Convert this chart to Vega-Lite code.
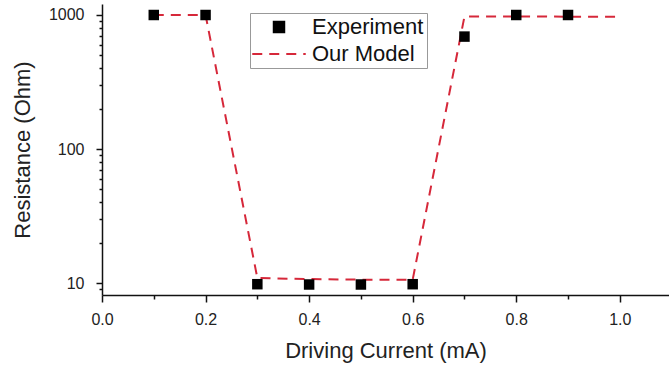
{
  "$schema": "https://vega.github.io/schema/vega-lite/v6.json",
  "width": 567,
  "height": 291,
  "autosize": "none",
  "padding": {"left": 102, "top": 4, "right": 0, "bottom": 78},
  "background": "white",
  "config": {
    "view": {"stroke": null},
    "font": "Liberation Sans",
    "axis": {
      "grid": false,
      "domainColor": "#111",
      "domainWidth": 1.5,
      "tickColor": "#111",
      "tickWidth": 1.5,
      "labelFont": "Liberation Sans",
      "labelFontSize": 16,
      "labelColor": "#222",
      "titleFont": "Liberation Sans",
      "titleFontSize": 22,
      "titleFontWeight": "normal",
      "titleColor": "#222"
    }
  },
  "data": {
    "values": [
      {"series": "Experiment", "x": 0.1, "y": 1000},
      {"series": "Experiment", "x": 0.2, "y": 1000},
      {"series": "Experiment", "x": 0.3, "y": 9.8},
      {"series": "Experiment", "x": 0.4, "y": 9.75},
      {"series": "Experiment", "x": 0.5, "y": 9.75},
      {"series": "Experiment", "x": 0.6, "y": 9.8},
      {"series": "Experiment", "x": 0.7, "y": 690},
      {"series": "Experiment", "x": 0.8, "y": 1000},
      {"series": "Experiment", "x": 0.9, "y": 1000},
      {"series": "Our Model", "x": 0.1, "y": 1000},
      {"series": "Our Model", "x": 0.2, "y": 1000},
      {"series": "Our Model", "x": 0.3, "y": 10.9},
      {"series": "Our Model", "x": 0.4, "y": 10.7},
      {"series": "Our Model", "x": 0.5, "y": 10.6},
      {"series": "Our Model", "x": 0.6, "y": 10.6},
      {"series": "Our Model", "x": 0.7, "y": 975},
      {"series": "Our Model", "x": 0.8, "y": 975},
      {"series": "Our Model", "x": 0.9, "y": 972},
      {"series": "Our Model", "x": 1.0, "y": 970}
    ]
  },
  "encoding": {
    "x": {
      "field": "x",
      "type": "quantitative",
      "scale": {"domain": [0, 1.095], "nice": false, "zero": false},
      "axis": {
        "title": "Driving Current (mA)",
        "values": [0, 0.1, 0.2, 0.3, 0.4, 0.5, 0.6, 0.7, 0.8, 0.9, 1.0],
        "labelExpr": "round(datum.value*10)%2==0 ? format(datum.value,'.1f') : ''",
        "tickSize": {"condition": {"test": "round(datum.value*10)%2==0", "value": 7}, "value": 4},
        "labelPadding": 9,
        "titlePadding": 13,
        "labelFlush": false
      }
    },
    "y": {
      "field": "y",
      "type": "quantitative",
      "scale": {"type": "log", "domain": [8.14, 1208], "nice": false},
      "axis": {
        "title": "Resistance (Ohm)",
        "values": [8, 9, 10, 20, 30, 40, 50, 60, 70, 80, 90, 100, 200, 300, 400, 500, 600, 700, 800, 900, 1000],
        "labelExpr": "indexof([10,100,1000], datum.value) >= 0 ? '' + datum.value : ''",
        "tickSize": {"condition": {"test": "indexof([10,100,1000], datum.value) >= 0", "value": 6}, "value": 3},
        "labelPadding": 12,
        "titlePadding": 14,
        "labelFlush": false
      }
    }
  },
  "layer": [
    {
      "transform": [{"filter": "datum.series == 'Our Model'"}],
      "mark": {"type": "line", "strokeWidth": 2},
      "encoding": {
        "color": {
          "field": "series",
          "type": "nominal",
          "scale": {"domain": ["Experiment", "Our Model"], "range": ["#000000", "#d6283a"]},
          "legend": {
            "title": null,
            "orient": "none",
            "legendX": 148,
            "legendY": 9,
            "strokeColor": "#999",
            "padding": 3,
            "labelFont": "Liberation Sans",
            "labelFontSize": 22,
            "labelColor": "#111",
            "symbolOffset": 15,
            "labelOffset": 22,
            "rowPadding": 5,
            "symbolSize": 110,
            "symbolStrokeWidth": 2
          }
        },
        "strokeDash": {
          "field": "series",
          "type": "nominal",
          "scale": {"domain": ["Experiment", "Our Model"], "range": [[1, 0], [10, 7]]},
          "legend": {"title": null}
        }
      }
    },
    {
      "transform": [{"filter": "datum.series == 'Experiment'"}],
      "mark": {"type": "point", "filled": true, "opacity": 1, "size": 110},
      "encoding": {
        "color": {"field": "series", "type": "nominal"},
        "shape": {
          "field": "series",
          "type": "nominal",
          "scale": {"domain": ["Experiment", "Our Model"], "range": ["square", "M-5.1,0H5.1"]},
          "legend": {"title": null}
        }
      }
    }
  ]
}
